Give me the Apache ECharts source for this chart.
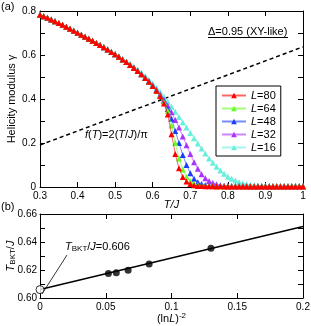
<!DOCTYPE html>
<html><head><meta charset="utf-8">
<script src="https://cdn.jsdelivr.net/npm/echarts@6/dist/echarts.min.js"></script>
<style>html,body{margin:0;padding:0;background:#fff}#c{width:311px;height:326px}</style>
</head><body><div id="c"></div>
<script>
// ---- data ----
const temps = [0.30,0.31,0.32,0.33,0.34,0.35,0.36,0.37,0.38,0.39,0.40,0.41,0.42,0.43,0.44,0.45,0.46,0.47,0.48,0.49,
0.50,0.51,0.52,0.53,0.54,0.55,0.56,0.57,0.58,0.59,0.60,0.61,0.62,0.63,0.64,0.65,0.66,0.67,0.68,0.69,
0.70,0.71,0.72,0.73,0.74,0.75,0.76,0.77,0.78,0.79,0.80,0.81,0.82,0.83,0.84,0.85,0.86,0.87,0.88,0.89,
0.90,0.91,0.92,0.93,0.94,0.95,0.96,0.97,0.98,0.99,1.00];
const gammaL80 = [.783,.776,.769,.761,.753,.745,.737,.728,.719,.710,.701,.692,.683,.674,.665,.655,.645,.635,.625,.614,
.603,.592,.580,.568,.555,.541,.527,.512,.496,.478,.459,.437,.412,.380,.330,.240,.150,.085,.045,.025,
.014,.008,.005,.004,.003,.003,.003,.002,.003,.002,.002,.002,.002,.002,.002,.002,.002,.002,.002,.002,
.002,.002,.002,.002,.002,.002,.002,.002,.002,.002,.002];
const gammaL64 = [.783,.776,.769,.761,.753,.745,.737,.728,.719,.710,.701,.692,.683,.674,.665,.655,.645,.635,.625,.614,
.603,.592,.580,.568,.555,.541,.527,.512,.496,.478,.460,.438,.414,.385,.345,.280,.200,.130,.080,.045,
.026,.015,.009,.006,.005,.004,.004,.003,.003,.003,.003,.003,.003,.003,.003,.003,.003,.003,.003,.003,
.003,.003,.003,.003,.003,.003,.003,.003,.003,.003,.003];
const gammaL48 = [.783,.776,.769,.761,.753,.745,.737,.728,.719,.710,.701,.692,.683,.674,.665,.655,.645,.635,.625,.614,
.603,.592,.580,.568,.555,.541,.527,.512,.496,.479,.461,.440,.417,.390,.355,.310,.255,.200,.145,.100,
.062,.038,.022,.014,.009,.006,.005,.004,.004,.004,.003,.003,.003,.003,.003,.003,.003,.003,.003,.003,
.003,.003,.003,.003,.003,.003,.003,.003,.003,.003,.003];
const gammaL32 = [.783,.776,.769,.761,.753,.745,.737,.728,.719,.710,.701,.692,.683,.674,.665,.655,.645,.635,.625,.614,
.603,.592,.580,.568,.556,.543,.529,.514,.498,.481,.462,.442,.420,.397,.370,.340,.305,.270,.230,.190,
.150,.113,.083,.058,.040,.027,.018,.012,.008,.006,.005,.004,.004,.004,.004,.004,.003,.003,.003,.003,
.003,.003,.003,.003,.003,.003,.003,.003,.003,.003,.003];
const gammaL16 = [.783,.776,.769,.761,.753,.745,.737,.728,.719,.710,.701,.692,.683,.674,.665,.656,.646,.636,.626,.616,
.605,.595,.584,.572,.560,.547,.534,.520,.505,.488,.470,.452,.432,.410,.388,.365,.342,.318,.294,.270,
.246,.222,.198,.175,.152,.130,.110,.092,.075,.060,.047,.037,.029,.022,.017,.013,.010,.008,.007,.006,
.005,.005,.005,.004,.004,.004,.004,.004,.004,.004,.004];
const fLineT = [0.3, 1.0];
const fLineGamma = [0.191, 0.637];

const invLnL2 = [0.052, 0.058, 0.067, 0.083, 0.130];
const tbkt = [0.6175, 0.6180, 0.6198, 0.6243, 0.6355];
const fitX = [0, 0.2];
const fitY = [0.606, 0.651];
const extrapX = [0];
const extrapY = [0.606];

const seriesNames = ['L=80','L=64','L=48','L=32','L=16'];
const seriesColors = ['#ff0000','#66ff22','#1a3cff','#aa33ff','#66f0dc'];
const seriesData = [gammaL80, gammaL64, gammaL48, gammaL32, gammaL16];

// ---- chart ----
const FONT = '"Liberation Sans", Arial, sans-serif';
const chart = echarts.init(document.getElementById('c'), null, {renderer:'canvas'});
const pair = (xs, ys) => xs.map((x,i)=>[x, ys[i]]);

function ax(extra){
  return Object.assign({
    type:'value',
    nameMoveOverlap:false,
    axisLine:{show:true, onZero:false, lineStyle:{color:'#000', width:1}},
    axisTick:{show:true, inside:true, length:5, lineStyle:{color:'#000', width:1}},
    splitLine:{show:false},
    axisLabel:{color:'#000', fontSize:10, fontFamily:FONT, margin:4, showMinLabel:true, showMaxLabel:true}
  }, extra);
}
const noLabel = {show:false};
const fmtA = v => String(+v.toFixed(2));
const fmtAy = v => (Math.round(v*10)%2===0) ? String(+v.toFixed(1)) : '';
const fmtBy = v => (Math.round(v*100)%2===0) ? v.toFixed(2) : '';

const lineSeries = [];
for (let k = seriesNames.length-1; k >= 0; k--) {
  lineSeries.push({
    name: seriesNames[k], type:'line', xAxisIndex:0, yAxisIndex:0,
    data: pair(temps, seriesData[k]),
    symbol:'triangle', symbolSize:6, showSymbol:true, clip:false,
    color: seriesColors[k],
    itemStyle:{color: seriesColors[k]},
    lineStyle:{color: seriesColors[k], width:1, opacity:0.6},
    animation:false, z: 3 + (seriesNames.length-k)
  });
}

const option = {
  animation:false,
  textStyle:{fontFamily:FONT},
  grid:[
    {left:40, top:11, width:263, height:176, containLabel:false, outerBoundsMode:'none'},
    {left:40, top:214, width:263, height:84, containLabel:false, outerBoundsMode:'none'}
  ],
  xAxis:[
    ax({gridIndex:0, position:'bottom', min:0.3, max:1.0, interval:0.1,
        axisLabel:{color:'#000', fontSize:10, fontFamily:FONT, margin:4, showMinLabel:true, showMaxLabel:true, formatter:fmtA},
        name:'T/J', nameLocation:'middle', nameGap:12,
        nameTextStyle:{color:'#000', fontSize:11, fontStyle:'italic', fontFamily:FONT}}),
    ax({gridIndex:0, position:'top', min:0.3, max:1.0, interval:0.1, axisLabel:noLabel}),
    ax({gridIndex:1, position:'bottom', min:0, max:0.2, interval:0.05,
        axisLabel:{color:'#000', fontSize:10, fontFamily:FONT, margin:4, showMinLabel:true, showMaxLabel:true, formatter:fmtA},
        name:'(ln{i|L}){p|-2}', nameLocation:'middle', nameGap:14,
        nameTextStyle:{color:'#000', fontSize:11, fontFamily:FONT,
          rich:{i:{fontStyle:'italic', fontSize:11, fontFamily:FONT, color:'#000'},
                p:{fontSize:8, verticalAlign:'top', fontFamily:FONT, color:'#000', padding:[0,0,6,0]}}}}),
    ax({gridIndex:1, position:'top', min:0, max:0.2, interval:0.05, axisLabel:noLabel})
  ],
  yAxis:[
    ax({gridIndex:0, position:'left', min:0, max:0.8, interval:0.1,
        axisLabel:{color:'#000', fontSize:10, fontFamily:FONT, margin:4, showMinLabel:true, showMaxLabel:true, formatter:fmtAy},
        name:'Helicity modulus γ', nameLocation:'middle', nameGap:23, nameRotate:90,
        nameTextStyle:{color:'#000', fontSize:11, fontFamily:FONT}}),
    ax({gridIndex:0, position:'right', min:0, max:0.8, interval:0.1, axisLabel:noLabel}),
    ax({gridIndex:1, position:'left', min:0.6, max:0.66, interval:0.01,
        axisLabel:{color:'#000', fontSize:10, fontFamily:FONT, margin:3, showMinLabel:true, showMaxLabel:true, formatter:fmtBy},
        name:'{i|T}{s|BKT}/{i|J}', nameLocation:'middle', nameGap:23, nameRotate:90,
        nameTextStyle:{color:'#000', fontSize:11, fontFamily:FONT,
          rich:{i:{fontStyle:'italic', fontSize:11, fontFamily:FONT, color:'#000'},
                s:{fontSize:8, verticalAlign:'bottom', fontFamily:FONT, color:'#000', padding:[5,0,0,0]}}}}),
    ax({gridIndex:1, position:'right', min:0.6, max:0.66, interval:0.01, axisLabel:noLabel})
  ],
  legend:{
    data: seriesNames,
    orient:'vertical', left:216, top:86,
    borderColor:'#000', borderWidth:1, padding:[4,5,3,5],
    itemWidth:24, itemHeight:7, itemGap:2,
    textStyle:{color:'#000', fontSize:11, fontFamily:FONT,
      rich:{i:{fontStyle:'italic', fontSize:11, fontFamily:FONT, color:'#000'}}},
    formatter: n => '{i|L}' + n.slice(1),
    selectedMode:false
  },
  series: [
    {type:'line', xAxisIndex:0, yAxisIndex:0, data: pair(fLineT, fLineGamma),
     showSymbol:false, symbol:'none', lineStyle:{color:'#000', width:1.5, type:[4,3]}, z:2, silent:true}
  ].concat(lineSeries).concat([
    {type:'line', xAxisIndex:2, yAxisIndex:2, data: pair(fitX, fitY),
     showSymbol:false, symbol:'none', lineStyle:{color:'#000', width:1.5}, z:2},
    {type:'scatter', xAxisIndex:2, yAxisIndex:2, data: pair(invLnL2, tbkt),
     symbol:'circle', symbolSize:7, itemStyle:{color:'#000'}, clip:false, z:3},
    {type:'scatter', xAxisIndex:2, yAxisIndex:2, data: pair(extrapX, extrapY),
     symbol:'circle', symbolSize:8, itemStyle:{color:'#fff', borderColor:'#000', borderWidth:1}, clip:false, z:4}
  ]),
  graphic:[
    {type:'text', left:1, top:1, style:{text:'(a)', font:'11px '+FONT, fill:'#000'}},
    {type:'text', left:1, top:201, style:{text:'(b)', font:'11px '+FONT, fill:'#000'}},
    {type:'text', left:208, top:26, style:{text:'Δ=0.95 (XY-like)', font:'11px '+FONT, fill:'#000'}},
    {type:'line', shape:{x1:208, y1:37.5, x2:288, y2:37.5}, style:{stroke:'#000', lineWidth:1}},
    {type:'text', left:85, top:129, style:{text:'{i|f}({i|T})=2({i|T}/{i|J})/π', font:'11px '+FONT, fill:'#000',
       rich:{i:{fontStyle:'italic', fontSize:11, fontFamily:FONT}}}},
    {type:'text', left:65, top:241, style:{text:'{i|T}{s|BKT}/{i|J}=0.606', font:'11px '+FONT, fill:'#000',
       rich:{i:{fontStyle:'italic', fontSize:11, fontFamily:FONT}, s:{fontSize:8, fontFamily:FONT, verticalAlign:'bottom', padding:[5,0,0,0]}}}},
    {type:'line', shape:{x1:42, y1:294, x2:67, y2:255}, style:{stroke:'#000', lineWidth:0.8}}
  ]
};
chart.setOption(option);
</script></body></html>
